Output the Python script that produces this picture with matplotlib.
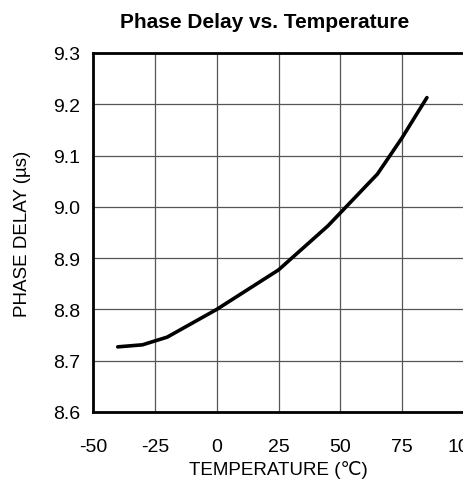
import matplotlib
matplotlib.use("Agg")
import matplotlib.pyplot as plt

temps = [-40, -30, -20, 0, 25, 45, 65, 75, 85]
delays = [8.727, 8.731, 8.746, 8.800, 8.877, 8.963, 9.064, 9.135, 9.213]
xticks = [-50, -25, 0, 25, 50, 75, 100]
yticks = [8.6, 8.7, 8.8, 8.9, 9.0, 9.1, 9.2, 9.3]

plt.rcParams['font.family'] = ['Liberation Sans', 'DejaVu Sans']
plt.rcParams['axes.unicode_minus'] = False

fig = plt.figure(figsize=(4.63, 4.85), dpi=100)
ax = fig.add_axes([93/463, 1-413/485, 371/463, 359/485])
ax.plot(temps, delays, color='black', lw=2.6, solid_capstyle='round', zorder=3)
ax.set_xlim(-50, 100)
ax.set_ylim(8.6, 9.3)
ax.set_xticks(xticks)
ax.set_yticks(yticks)
ax.set_yticklabels([f"{v:.1f}" for v in yticks])
ax.grid(True, color='#555555', lw=0.9)
ax.tick_params(length=0, labelsize=14)
ax.tick_params(axis='x', pad=19)
ax.tick_params(axis='y', pad=9)
for s in ax.spines.values():
    s.set_linewidth(2)
ax.set_xlabel("TEMPERATURE (℃)", fontsize=13.5, labelpad=3)
ax.set_ylabel("PHASE DELAY (µs)", fontsize=13.5, labelpad=16)
fig.text(265/463, 1-22/485, "Phase Delay vs. Temperature", ha='center', va='center',
         fontsize=15, fontweight='bold')
fig.savefig("out.png", dpi=100)
